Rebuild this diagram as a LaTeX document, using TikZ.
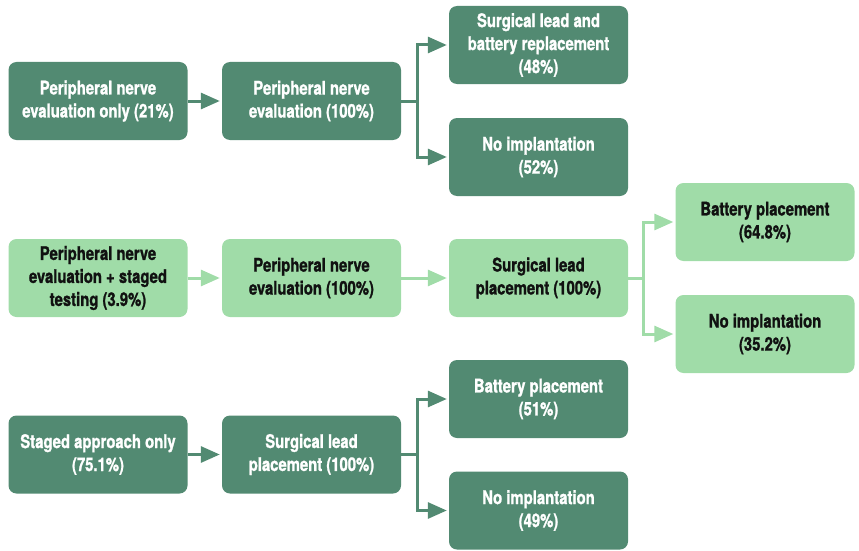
\documentclass[tikz,border=0pt]{standalone}
\usepackage{fontspec}
\setmainfont{TeX Gyre Heros}[BoldFont={TeX Gyre Heros Bold}, BoldFeatures={FakeBold=1.2}, FakeStretch=0.79]
\usetikzlibrary{arrows.meta}
\definecolor{dk}{RGB}{82,138,114}
\definecolor{lt}{RGB}{160,220,168}
\definecolor{txt}{RGB}{17,17,17}
\begin{document}
\begin{tikzpicture}[x=1pt,y=-1pt,
  box/.style={rounded corners=8pt, minimum width=179pt, minimum height=78pt, align=center, inner sep=0pt, font=\fontsize{18.8}{23}\selectfont\bfseries},
  dkbox/.style={box, fill=dk, text=white},
  ltbox/.style={box, fill=lt, text=txt},
  con/.style={line width=3pt, shorten >=2pt, -{Triangle[length=19pt,width=16pt]}}]
\useasboundingbox (0,0) rectangle (859,551);
% row 1
\node[dkbox] (A1) at (98,101) {Peripheral nerve\\evaluation only (21\%)};
\node[dkbox] (A2) at (311.5,101) {Peripheral nerve\\evaluation (100\%)};
\node[dkbox] (A3) at (538.5,45) {Surgical lead and\\battery replacement\\(48\%)};
\node[dkbox] (A4) at (538.5,157) {No implantation\\(52\%)};
% row 2
\node[ltbox] (B1) at (98,278) {Peripheral nerve\\evaluation + staged\\testing (3.9\%)};
\node[ltbox] (B2) at (311.5,278) {Peripheral nerve\\evaluation (100\%)};
\node[ltbox] (B3) at (538.5,278) {Surgical lead\\placement (100\%)};
\node[ltbox] (B4) at (765,222) {Battery placement\\(64.8\%)};
\node[ltbox] (B5) at (765,334) {No implantation\\(35.2\%)};
% row 3
\node[dkbox] (C1) at (98,454.5) {Staged approach only\\(75.1\%)};
\node[dkbox] (C2) at (311.5,454.5) {Surgical lead\\placement (100\%)};
\node[dkbox] (C3) at (538.5,399) {Battery placement\\(51\%)};
\node[dkbox] (C4) at (538.5,510.5) {No implantation\\(49\%)};
% connectors
\draw[con,dk] (A1) -- (A2);
\draw[con,dk] (A2.east) -- ++(16,0) |- (A3.west);
\draw[con,dk] (A2.east) -- ++(16,0) |- (A4.west);
\draw[con,lt] (B1) -- (B2);
\draw[con,lt] (B2) -- (B3);
\draw[con,lt] (B3.east) -- ++(15,0) |- (B4.west);
\draw[con,lt] (B3.east) -- ++(15,0) |- (B5.west);
\draw[con,dk] (C1) -- (C2);
\draw[con,dk] (C2.east) -- ++(16,0) |- (C3.west);
\draw[con,dk] (C2.east) -- ++(16,0) |- (C4.west);
\end{tikzpicture}
\end{document}
